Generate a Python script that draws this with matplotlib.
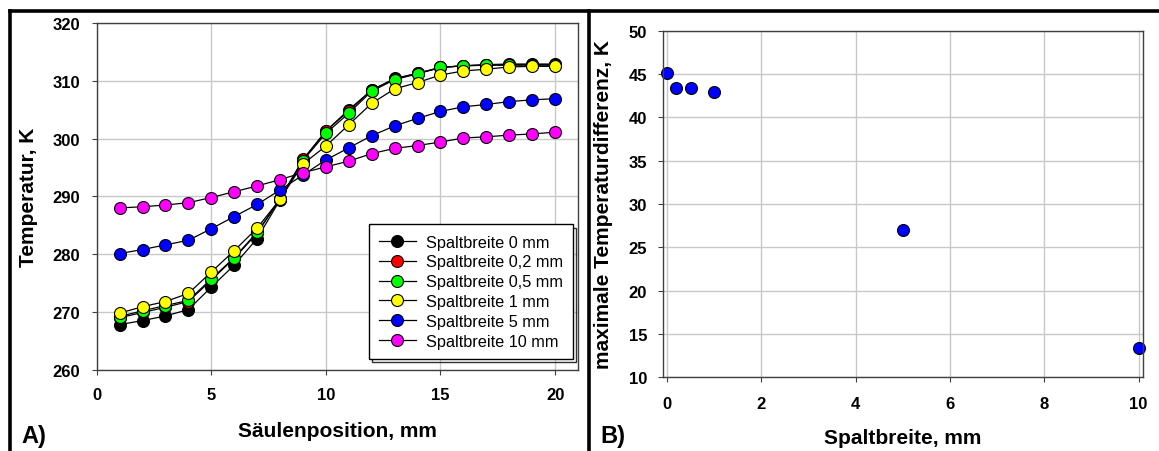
import matplotlib
matplotlib.use("Agg")
import matplotlib.pyplot as plt
from matplotlib.lines import Line2D
from matplotlib.patches import Rectangle

plt.rcParams['font.family'] = ['Liberation Sans', 'DejaVu Sans']

W, H = 1159, 452

# Panel A: temperature along the column for several gap widths
position = list(range(1, 21))
labels = ["Spaltbreite 0 mm", "Spaltbreite 0,2 mm", "Spaltbreite 0,5 mm",
          "Spaltbreite 1 mm", "Spaltbreite 5 mm", "Spaltbreite 10 mm"]
colors = ["black", "#ff0000", "#00ff00", "#ffff00", "#0000ff", "#ff00ff"]

temp_0 = [267.8, 268.5, 269.3, 270.4, 274.3, 278.1, 282.7, 289.4, 296.3, 301.3,
          305.0, 308.4, 310.4, 311.3, 312.3, 312.6, 312.8, 312.9, 312.9, 312.9]
temp_02 = [269.0, 269.9, 270.8, 271.8, 275.5, 279.3, 283.6, 289.6, 296.4, 301.3,
           304.8, 308.4, 310.3, 311.3, 312.3, 312.6, 312.7, 312.8, 312.8, 312.8]
temp_05 = [269.2, 270.2, 271.1, 272.0, 275.7, 279.4, 283.8, 289.5, 296.2, 300.9,
           304.4, 308.2, 310.2, 311.2, 312.3, 312.6, 312.7, 312.7, 312.7, 312.7]
temp_1 = [269.8, 270.9, 271.8, 273.2, 276.9, 280.6, 284.5, 289.5, 295.6, 298.7,
          302.4, 306.1, 308.6, 309.7, 311.0, 311.7, 312.0, 312.4, 312.5, 312.5]
temp_5 = [280.1, 280.8, 281.6, 282.4, 284.4, 286.5, 288.6, 291.1, 293.7, 296.3,
          298.4, 300.5, 302.2, 303.5, 304.7, 305.5, 305.9, 306.4, 306.7, 306.9]
temp_10 = [288.0, 288.2, 288.5, 288.9, 289.8, 290.8, 291.8, 292.9, 294.1, 295.1,
           296.1, 297.4, 298.3, 298.8, 299.4, 300.1, 300.3, 300.6, 300.8, 301.1]
series = [temp_0, temp_02, temp_05, temp_1, temp_5, temp_10]

# Panel B: maximum temperature difference vs gap width
gap = [0, 0.2, 0.5, 1, 5, 10]
dt_max = [45.1, 43.35, 43.4, 42.97, 27.0, 13.35]

GRID = "#c8c8c8"
SPINE = "#404040"


def px_axes(l, t, r, b):
    return [l / W, 1 - b / H, (r - l) / W, (b - t) / H]


def style(ax, ypad, xpad):
    ax.grid(True, color=GRID, linewidth=1.0)
    ax.set_axisbelow(True)
    for s in ax.spines.values():
        s.set_color(SPINE)
        s.set_linewidth(1.0)
    ax.tick_params(direction="out", length=3.6, width=0.8, color=SPINE,
                   labelsize=12, top=False, right=False)
    ax.tick_params(axis="y", pad=ypad)
    ax.tick_params(axis="x", pad=xpad)
    for lab in ax.get_xticklabels() + ax.get_yticklabels():
        lab.set_fontweight("bold")


fig = plt.figure(figsize=(W / 100, H / 100), dpi=100)

# --- panel A
ax1 = fig.add_axes(px_axes(96.7, 24, 578, 370.7))
for vals, col, lab in zip(series, colors, labels):
    ax1.plot(position, vals, color="black", linewidth=0.9, marker="o",
             markersize=8.6, markerfacecolor=col, markeredgecolor="black",
             markeredgewidth=0.8, label=lab, clip_on=False)
ax1.set_xlim(0, 21)
ax1.set_ylim(260, 320)
ax1.set_xticks([0, 5, 10, 15, 20])
ax1.set_yticks(range(260, 321, 10))
style(ax1, 8.4, 9)
ax1.set_xlabel("Säulenposition, mm", fontsize=15, fontweight="bold")
ax1.set_ylabel("Temperatur, K", fontsize=15, fontweight="bold")
ax1.xaxis.set_label_coords(0.5, -0.148)
ax1.yaxis.set_label_coords(-0.122, 0.5)

leg = ax1.legend(loc="lower right", bbox_to_anchor=(0.9896, 0.031),
                 borderaxespad=0, fancybox=False, framealpha=1,
                 edgecolor="black", fontsize=11.7, handlelength=2.3,
                 handletextpad=0.6, labelspacing=0.3, borderpad=0.62)
leg.get_frame().set_linewidth(1.0)

# --- panel B
ax2 = fig.add_axes(px_axes(662.7, 31.7, 1143.3, 378.3))
ax2.plot(gap, dt_max, linestyle="none", marker="o", markersize=8.6,
         markerfacecolor="#0000ff", markeredgecolor="black",
         markeredgewidth=0.8, clip_on=False)
ax2.set_xlim(-0.09, 10.1)
ax2.set_ylim(10, 50)
ax2.set_xticks([0, 2, 4, 6, 8, 10])
ax2.set_yticks(range(10, 51, 5))
style(ax2, 7.7, 9.9)
ax2.set_xlabel("Spaltbreite, mm", fontsize=15, fontweight="bold")
ax2.set_ylabel("maximale Temperaturdifferenz, K", fontsize=15, fontweight="bold")
ax2.xaxis.set_label_coords(0.5, -0.147)
ax2.yaxis.set_label_coords(-0.104, 0.5)

# legend drop line (outline shadow)
fig.canvas.draw()
bb = leg.get_window_extent().transformed(ax1.transAxes.inverted())
dx = 3.5 / (578 - 96.7)
dy = 3.5 / (370.7 - 24)
ax1.add_patch(Rectangle((bb.x0 + dx, bb.y0 - dy), bb.width, bb.height,
                        transform=ax1.transAxes, fill=False,
                        edgecolor="#303030", linewidth=1.0, zorder=4.5))

# panel frames
frame_kw = dict(color="black", linewidth=2.6, solid_capstyle="projecting")
fig.add_artist(Line2D([10.3 / W, 10.3 / W], [0, 1 - 12 / H], **frame_kw))
fig.add_artist(Line2D([10.3 / W, 1], [1 - 12 / H, 1 - 12 / H], **frame_kw))
fig.add_artist(Line2D([589 / W, 589 / W], [0, 1 - 12 / H], **frame_kw))

fig.text(21.7 / W, 1 - 443 / H, "A)", fontsize=17, fontweight="bold",
         ha="left", va="baseline")
fig.text(600 / W, 1 - 443 / H, "B)", fontsize=17, fontweight="bold",
         ha="left", va="baseline")

fig.savefig("out.png", dpi=100)
